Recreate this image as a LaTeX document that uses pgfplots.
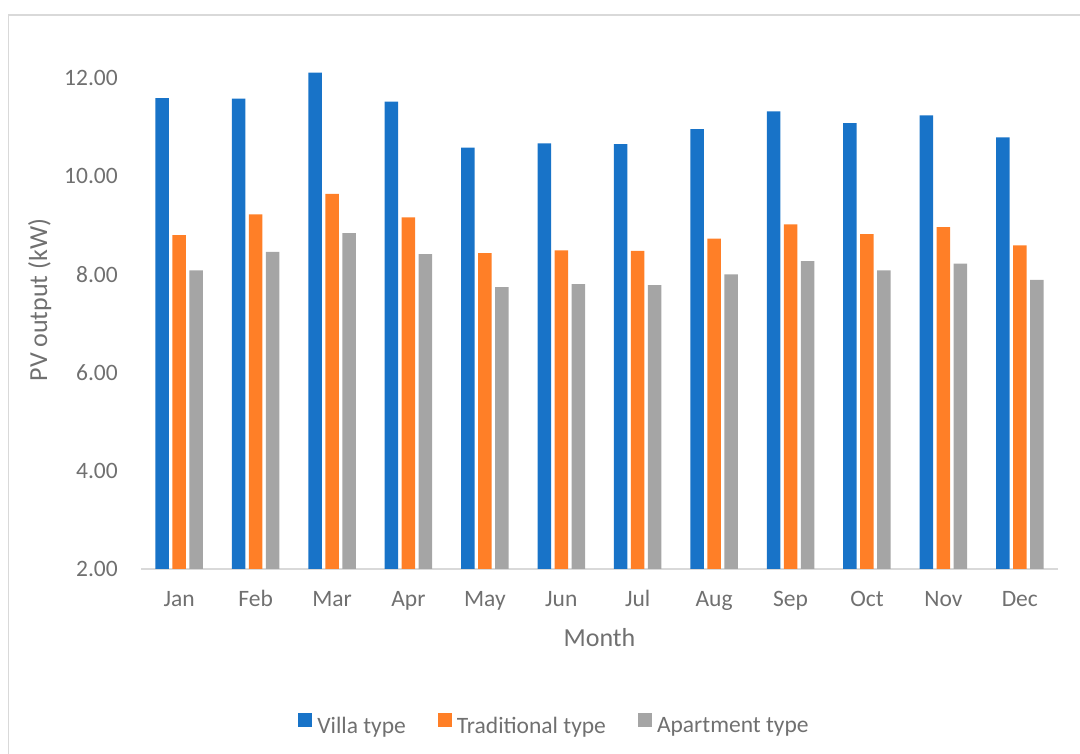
\documentclass[border=0pt]{standalone}
\usepackage{pgfplots}
\pgfplotsset{compat=1.18}
\usepackage{fontspec}
\setmainfont{Carlito}

\definecolor{villa}{RGB}{24,115,200}
\definecolor{trad}{RGB}{255,127,39}
\definecolor{apt}{RGB}{165,165,165}
\definecolor{labelgray}{RGB}{112,112,112}
\definecolor{linegray}{RGB}{217,217,217}

% Monthly PV output (kW) per house type
\pgfplotstableread{
m  villa  trad  apt
0  11.59  8.80  8.08
1  11.58  9.22  8.46
2  12.11  9.64  8.84
3  11.52  9.16  8.41
4  10.58  8.43  7.74
5  10.67  8.49  7.80
6  10.65  8.48  7.78
7  10.96  8.73  8.00
8  11.32  9.02  8.27
9  11.08  8.82  8.08
10 11.24  8.96  8.22
11 10.79  8.59  7.89
}\pvdata

\begin{document}
\begin{tikzpicture}[x=1pt,y=1pt]
% chart frame
\draw[linegray, line width=1.5pt] (8.7,-30) -- (8.7,739) -- (1100,739);
\begin{axis}[
  at={(141pt,185pt)}, anchor=south west,
  scale only axis, width=917pt, height=515.6pt,
  xmin=-0.5, xmax=11.5, ymin=2, ymax=12.5,
  ybar=3.5pt, bar width=13.5pt,
  axis lines*=left,
  x axis line style={linegray, line width=2pt},
  y axis line style={draw=none},
  major tick length=0pt,
  xtick=data,
  xticklabels={Jan,Feb,Mar,Apr,May,Jun,Jul,Aug,Sep,Oct,Nov,Dec},
  ytick={2,4,6,8,10,12},
  /pgf/number format/fixed,
  /pgf/number format/fixed zerofill,
  /pgf/number format/precision=2,
  /pgf/number format/assume math mode=true,
  every tick label/.append style={font=\fontsize{23.5}{28}\selectfont, text=labelgray, inner sep=0pt},
  yticklabel style={anchor=east, xshift=-23pt},
  xticklabel style={anchor=base, yshift=-38pt},
  xlabel={Month},
  ylabel={PV output (kW)},
  every axis x label/.style={at={(axis description cs:0.5,0)}, anchor=base, yshift=-78pt, inner sep=0pt,
    font=\fontsize{26}{30}\selectfont, text=labelgray},
  every axis y label/.style={at={(axis description cs:-0.1025,0.5217)}, rotate=90, anchor=base, inner sep=0pt,
    font=\fontsize{26}{30}\selectfont, text=labelgray},
  legend columns=3,
  legend style={at={(axis description cs:0.4498,-0.300)}, anchor=center, draw=none, fill=none,
    font=\fontsize{23.5}{28}\selectfont, text=labelgray,
    nodes={inner sep=0pt},
    /tikz/every odd column/.style={column sep=5pt},
    /tikz/every even column/.style={column sep=32pt}},
  legend image code/.code={\path[#1,draw=none] (0pt,-0.7pt) rectangle (14pt,13.3pt);},
]
\addplot[fill=villa, draw=none] table[x=m, y=villa] {\pvdata};
\addplot[fill=trad, draw=none] table[x=m, y=trad] {\pvdata};
\addplot[fill=apt, draw=none] table[x=m, y=apt] {\pvdata};
\legend{Villa type, Traditional type, Apartment type}
\end{axis}
\pgfresetboundingbox
\path[use as bounding box] (0,0) rectangle (1080,754);
\end{tikzpicture}
\end{document}
